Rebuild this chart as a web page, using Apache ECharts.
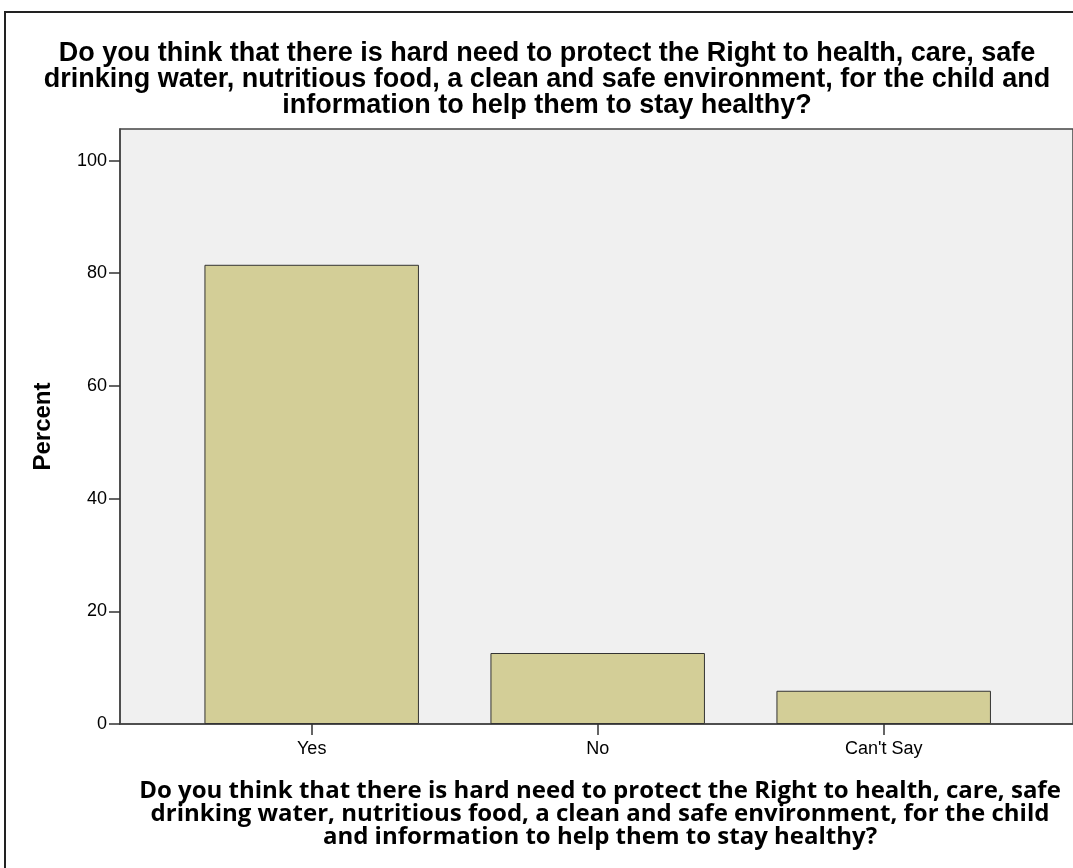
<!DOCTYPE html>
<html>
<head>
<meta charset="utf-8">
<script src="https://cdn.jsdelivr.net/npm/echarts@6/dist/echarts.min.js"></script>
<style>
  html, body { margin: 0; padding: 0; background: #fff; }
  #main { width: 1073px; height: 868px; }
</style>
</head>
<body>
<div id="main"></div>
<script>
var question = 'Do you think that there is hard need to protect the Right to health, care, safe\ndrinking water, nutritious food, a clean and safe environment, for the child and\ninformation to help them to stay healthy?'
var axisQuestion = 'Do you think that there is hard need to protect the Right to health, care, safe\ndrinking water, nutritious food, a clean and safe environment, for the child\nand information to help them to stay healthy?'
var categories = ['Yes', 'No', "Can't Say"]
var percents = [81.5, 12.6, 5.9]
var yTicks = [0, 20, 40, 60, 80, 100]

var font = 'Liberation Sans, Arial, sans-serif'
var yMax = 105.6

var option = {
    animation: false,
    backgroundColor: '#fff',
    title: [
        {
            text: question,
            left: 542,
            top: 36,
            textAlign: 'center',
            textStyle: { fontFamily: font, fontSize: 27, fontWeight: 'bold', color: '#000', lineHeight: 26 }
        },
        {
            text: axisQuestion,
            left: 595,
            top: 775,
            textAlign: 'center',
            textStyle: { fontFamily: 'Open Sans', fontSize: 24, fontWeight: 'bold', color: '#000', lineHeight: 23 }
        }
    ],
    // 外框
    graphic: [
        {
            type: 'rect',
            shape: { x: 5, y: 12, width: 1200, height: 1000 },
            style: { fill: 'none', stroke: '#222', lineWidth: 2 },
            silent: true
        }
    ],
    grid: [
        // 背景 + 坐标轴
        { left: 120, top: 129, right: -10, bottom: 144, show: true, backgroundColor: '#f0f0f0', borderColor: '#444', borderWidth: 1.5 },
        // 柱子所在区域
        { left: 168.7, top: 129, right: 46.3, bottom: 144 }
    ],
    xAxis: [
        {
            type: 'value', gridIndex: 0, min: 0, max: 1,
            axisLine: { show: true, lineStyle: { color: '#444', width: 1.5 } },
            axisTick: { show: false }, axisLabel: { show: false }, splitLine: { show: false }
        },
        {
            type: 'category', gridIndex: 1, data: categories,
            axisLine: { show: false },
            axisTick: { show: true, alignWithLabel: true, length: 11, lineStyle: { color: '#333', width: 1.5 } },
            axisLabel: { fontFamily: font, fontSize: 18, color: '#000', margin: 16 }
        }
    ],
    yAxis: [
        {
            type: 'value', gridIndex: 0, min: 0, max: yMax,
            name: 'Percent', nameLocation: 'middle', nameGap: 65,
            nameTextStyle: { fontFamily: font, fontSize: 24, fontWeight: 'bold', color: '#000' },
            axisLine: { show: true, lineStyle: { color: '#444', width: 1.5 } },
            axisTick: { show: true, length: 11, customValues: yTicks, lineStyle: { color: '#333', width: 1.5 } },
            axisLabel: { fontFamily: font, fontSize: 18, color: '#000', margin: 13, customValues: yTicks },
            splitLine: { show: false }
        },
        { type: 'value', gridIndex: 1, min: 0, max: yMax, show: false }
    ],
    series: [
        {
            type: 'bar',
            xAxisIndex: 1,
            yAxisIndex: 1,
            barWidth: '75%',
            data: percents,
            itemStyle: { color: '#d3ce97', borderColor: '#333', borderWidth: 1 }
        }
    ]
}

echarts.init(document.getElementById('main')).setOption(option)
</script>
</body>
</html>
